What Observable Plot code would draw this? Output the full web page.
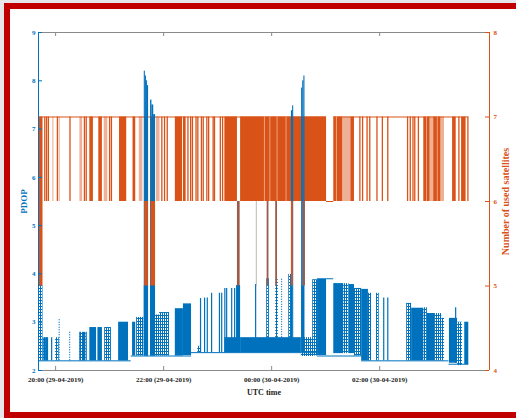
<!DOCTYPE html>
<html><head><meta charset="utf-8">
<script src="https://cdn.jsdelivr.net/npm/d3@7"></script>
<script src="https://cdn.jsdelivr.net/npm/@observablehq/plot@0.6"></script>
<style>
html,body{margin:0;padding:0;width:516px;height:418px;overflow:hidden;background:#e7e7eb;}
#wrap{position:relative;width:516px;height:418px;overflow:hidden;}
#deco{position:absolute;left:0;top:0;}
#chart{position:absolute;left:0;top:0;}
</style></head><body><div id="wrap">
<svg id="deco" width="516" height="418" xmlns="http://www.w3.org/2000/svg">
<rect x="0" y="0" width="516" height="418" fill="#e7e7eb"/>
<rect x="4" y="3" width="512" height="415" fill="#fff"/>
<rect x="4" y="3" width="6" height="415" fill="#c00000"/>
<rect x="4" y="3" width="512" height="6" fill="#c00000"/>
<rect x="4" y="412" width="512" height="6" fill="#c00000"/>
</svg>
<div id="chart"></div></div>
<script>
// all times are minutes after 20:00 UTC, 29-04-2019
const xDomainMin = [-19, 482];
const xTickMin = [0, 120, 240, 360];
const pdopTicks = [2, 3, 4, 5, 6, 7, 8, 9];
const satTicks = [4, 5, 6, 7, 8];

// Number of used satellites
const satLevels = [[-19, 301, 7], [301, 309, 6], [309, 459, 7]];
const satDense = [[-19,-14],[38,42],[48,52],[71,79],[86,89],[99,103],[106,111],[133,141],[142,145],[188,202],[205.5,301],[309,319],[328,332],[409,416],[420,428],[441,445],[451,456]];
const satLight = [[27,30],[54,58],[93,97],[112,116],[319,328],[416,420],[428,432]];
const satDrops = [-12,-10,-8,2,16,32,34,60,62,118,121,124,147,150,152,156,158,162,164,168,170,175,176.5,183,185.5,338,341,346,349,357,363,369,391,394,397,399,403,448,458];
const satLightDrops = [-3, 4];
const satPaleGaps = [232, 238, 246, 256, 312, 412, 424];
const satDeep = [[-19,-14,"o"],[99,103,"o"],[106,111,"o"],[202,205,"m"],[223,223.8,"f"],[235,237,"m"],[244.5,246.5,"m"],[262,264,"o"],[275,277.5,"m"]];

// PDOP
const pdopBase = [[-19,84,2.2],[84,151,2.3],[151,291,2.37],[291,340,2.3],[340,437,2.2],[437,459,2.13],[301,309,3.9]];
const pdopSolid = [[38,45.5,2.2,2.89],[47,52,2.2,2.89],[70,81,2.2,3.0],[85.5,89,2.3,3.0],[98.5,103,2.3,3.76],[105.5,111,2.3,3.76],[133,142,2.3,3.28],[142,151,2.31,3.38],[188,204,2.37,2.68],[201,205.5,2.37,3.76],[205.5,273,2.37,2.68],[273.5,276.5,2.37,3.75],[291,301,2.31,3.9],[309,320,2.35,3.8],[326,332,2.35,3.78],[340,347.5,2.2,3.68],[395.5,409,2.2,3.29],[413,421,2.2,3.18],[437.5,446.5,2.15,3.08],[454.5,459,2.12,3.0]];
const pdopLadder = [[-19,-14,2.2,3.76],[-14,-8,2.2,2.68],[0,4,2.2,2.68],[27,34,2.2,2.79],[54.5,62,2.2,2.89],[90,98,2.3,3.1],[110,115.5,2.3,3.15],[115.5,126.5,2.3,3.2],[158,161,2.37,2.5],[234.5,237.5,2.37,3.9],[244.5,247.5,2.37,3.88],[259,262,2.37,3.99],[273,287,2.29,2.68],[285.6,291,2.3,3.88],[320,326,2.35,3.8],[332,340,2.3,3.7],[347.5,351,2.2,3.6],[356.5,359.5,2.2,3.6],[390,395.5,2.2,3.39],[409,413,2.2,3.3],[421,429,2.2,3.18],[429,432,2.2,3.08],[446.5,452,2.1,3.0]];
const pdopLines = [[-13,2.2,2.68],[-11,2.2,2.68],[-9,2.2,2.68],[-4.4,2.2,2.68],[27,2.2,2.79],[31,2.2,2.79],[34,2.2,2.79],[161,2.37,3.49],[165.5,2.37,3.5],[168.5,2.37,3.5],[173.3,2.37,3.6],[182,2.37,3.6],[184.5,2.37,3.6],[188,2.37,3.7],[190,2.37,3.7],[195.6,2.37,3.7],[198.9,2.37,3.7],[222.2,2.37,3.78],[364.5,2.2,3.5],[369,2.2,3.5],[444.4,2.15,3.3]];
const pdopDotted = [[4,2.2,3.08],[15.6,2.2,2.79],[251,2.37,3.9]];
const pdopSpikes = [[98.5,99.7,2.3,8.2],[99.7,100.9,2.3,8.1],[100.9,102,2.3,8.0],[102,103.3,2.3,7.9],[105.5,107,2.3,7.6],[107,109,2.3,7.5],[109,111,2.3,7.3]];
const pdopSpikesLate = [[262,263.3,2.4,7.38],[263.3,264.5,2.4,7.48],[273.3,274.5,2.4,7.85],[274.5,275.8,2.4,8.0],[275.8,277,2.4,8.1]];

const BLUE = "#0072BD", ORANGE = "#D95319";
const toneColor = {o: ORANGE, m: "#9a5b48", f: "#a89a9a"};
const T0 = Date.UTC(2019, 3, 29, 20, 0);
const T = m => new Date(T0 + m * 60000);
// right axis (satellites 4..8) mapped onto the PDOP scale (2..9)
const toP = s => 2 + (s - 4) * 7 / 4;
const fromP = p => 4 + (p - 2) * 4 / 7;

const W = 516, H = 418, mL = 38, mR = 27, mT = 32, mB = 48;
const pw = W - mL - mR, ph = H - mT - mB;
const serif = "'Liberation Serif','Times New Roman',serif";

const svg = Plot.plot({
  width: W, height: H,
  marginLeft: mL, marginRight: mR, marginTop: mT, marginBottom: mB,
  style: {fontFamily: serif, fontSize: "7px", fontWeight: "bold", background: "transparent"},
  x: {type: "utc", domain: xDomainMin.map(T)},
  y: {domain: [2, 9]},
  marks: [
    Plot.ruleY(pdopBase, {x1: d => T(d[0]), x2: d => T(d[1]), y: d => d[2], stroke: BLUE, strokeWidth: 1}),
    Plot.rect(pdopSolid, {x1: d => T(d[0]), x2: d => T(d[1]), y1: d => d[2], y2: d => d[3], fill: BLUE}),
    Plot.rect(pdopLadder, {x1: d => T(d[0]), x2: d => T(d[1]), y1: d => d[2], y2: d => d[3], fill: "url(#ladder)"}),
    Plot.ruleX(pdopLines, {x: d => T(d[0]), y1: d => d[1], y2: d => d[2], stroke: BLUE, strokeWidth: 1.2}),
    Plot.ruleX(pdopDotted, {x: d => T(d[0]), y1: d => d[1], y2: d => d[2], stroke: BLUE, strokeWidth: 1.2, strokeDasharray: "1,1.5"}),
    // satellites
    Plot.ruleY(satLevels, {x1: d => T(d[0]), x2: d => T(d[1]), y: d => toP(d[2]), stroke: ORANGE, strokeWidth: 1}),
    Plot.rect(satDense, {x1: d => T(d[0]), x2: d => T(d[1]), y1: toP(6), y2: toP(7), fill: ORANGE}),
    Plot.rect(satLight, {x1: d => T(d[0]), x2: d => T(d[1]), y1: toP(6), y2: toP(7), fill: ORANGE, fillOpacity: 0.45}),
    Plot.ruleX(satDrops, {x: d => T(d), y1: toP(6), y2: toP(7), stroke: ORANGE, strokeWidth: 1.3}),
    Plot.ruleX(satLightDrops, {x: d => T(d), y1: toP(6), y2: toP(7), stroke: ORANGE, strokeWidth: 1, strokeOpacity: 0.5}),
    Plot.ruleX(satPaleGaps, {x: d => T(d), y1: toP(6), y2: toP(7), stroke: "#fff", strokeWidth: 1, strokeOpacity: 0.45}),
    Plot.rect(pdopSpikes, {x1: d => T(d[0]), x2: d => T(d[1]), y1: d => d[2], y2: d => d[3], fill: BLUE}),
    Plot.rect(pdopSpikesLate, {x1: d => T(d[0]), x2: d => T(d[1]), y1: d => d[2], y2: d => d[3], fill: BLUE}),
    Plot.rect(satDeep, {x1: d => T(d[0]), x2: d => T(d[1]), y1: toP(5), y2: toP(6), fill: d => toneColor[d[2]]}),
    // box
    Plot.ruleY([9], {stroke: "#8a8a8a"}),
    Plot.ruleY([2], {stroke: "#8a8a8a"}),
    Plot.ruleX([T(xDomainMin[0])], {stroke: BLUE}),
    Plot.ruleX([T(xDomainMin[1])], {stroke: ORANGE}),
    // inward ticks
    Plot.ruleX(xTickMin, {x: d => T(d), insetBottom: ph - 4, stroke: "#8a8a8a"}),
    Plot.ruleX(xTickMin, {x: d => T(d), insetTop: ph - 4, stroke: "#8a8a8a"}),
    Plot.ruleY(pdopTicks, {y: d => d, insetRight: pw - 4, stroke: BLUE}),
    Plot.ruleY(satTicks, {y: d => toP(d), insetLeft: pw - 4, stroke: ORANGE}),
    // axes
    Plot.axisY(pdopTicks, {anchor: "left", tickSize: 0, tickPadding: 3, fill: BLUE, label: null}),
    Plot.axisY(satTicks.map(toP), {anchor: "right", tickSize: 0, tickPadding: 4, fill: ORANGE, label: null, tickFormat: p => String(Math.round(fromP(p)))}),
    Plot.axisX(xTickMin.map(T), {anchor: "bottom", tickSize: 0, tickPadding: 7, fill: "#222", label: null, tickFormat: d3.utcFormat("%H:%M (%d-%m-%Y)")}),
    Plot.text(["UTC time"], {text: d => d, frameAnchor: "bottom", textAnchor: "middle", dy: 24, fontSize: 8, fill: "#222"}),
    Plot.text(["PDOP"], {text: d => d, frameAnchor: "left", textAnchor: "middle", dx: -14, rotate: -90, fontSize: 9, fill: BLUE}),
    Plot.text(["Number of used satellites"], {text: d => d, frameAnchor: "right", textAnchor: "middle", dx: 16, rotate: -90, fontSize: 10, fill: ORANGE})
  ]
});
const defs = document.createElementNS("http://www.w3.org/2000/svg", "defs");
defs.innerHTML = `<pattern id="ladder" width="2" height="3" patternUnits="userSpaceOnUse"><rect width="2" height="1" fill="${BLUE}"/><rect width="1" height="3" fill="${BLUE}"/></pattern>`;
svg.insertBefore(defs, svg.firstChild);
document.getElementById("chart").appendChild(svg);
</script></body></html>
